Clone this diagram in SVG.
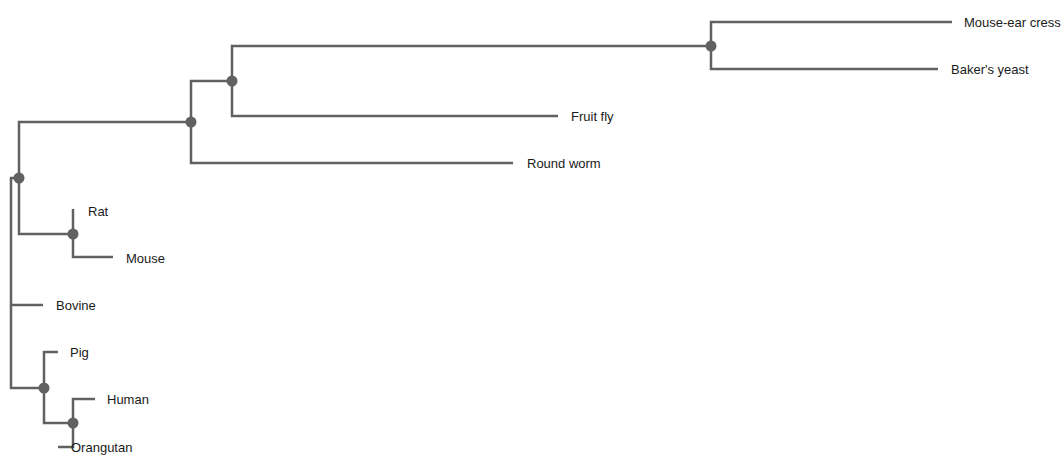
<svg xmlns="http://www.w3.org/2000/svg" width="1064" height="455" viewBox="0 0 1064 455">
<style>
.link{fill:none;stroke:#616161;stroke-width:2.5}
.node circle{fill:#616161}
.node text{font-family:"Liberation Sans",Arial,sans-serif;font-size:13px;fill:#1a1a1a}
</style>
<rect width="1064" height="455" fill="#fff"/>
<g id="links">
<path class="link" d="M19,178V122H191"/>
<path class="link" d="M19,178V234H73"/>
<path class="link" d="M19,178H11V388H44"/>
<path class="link" d="M11,305H43"/>
<path class="link" d="M191,122V81H232"/>
<path class="link" d="M191,122V163H513"/>
<path class="link" d="M232,81V46H711"/>
<path class="link" d="M232,81V116H558"/>
<path class="link" d="M711,46V22H952"/>
<path class="link" d="M711,46V69H938"/>
<path class="link" d="M73,234V209"/>
<path class="link" d="M73,234V257H113"/>
<path class="link" d="M44,388V352H58"/>
<path class="link" d="M44,388V423H73"/>
<path class="link" d="M73,423V399H95"/>
<path class="link" d="M73,423V447H58"/>
</g>
<g id="n-root" class="node"><circle cx="19" cy="178" r="5.5"/></g>
<g id="n-g1" class="node"><circle cx="191" cy="122" r="5.5"/></g>
<g id="n-g2" class="node"><circle cx="232" cy="81" r="5.5"/></g>
<g id="n-g3" class="node"><circle cx="711" cy="46" r="5.5"/></g>
<g id="n-g4" class="node"><circle cx="73" cy="234" r="5.5"/></g>
<g id="n-g5" class="node"><circle cx="44" cy="388" r="5.5"/></g>
<g id="n-g6" class="node"><circle cx="73" cy="423" r="5.5"/></g>
<g id="n-mouse-ear-cress" class="node"><text x="964" y="22" dy="0.35em">Mouse-ear cress</text></g>
<g id="n-bakers-yeast" class="node"><text x="951" y="69" dy="0.35em">Baker's yeast</text></g>
<g id="n-fruit-fly" class="node"><text x="571" y="116" dy="0.35em">Fruit fly</text></g>
<g id="n-round-worm" class="node"><text x="527" y="163" dy="0.35em">Round worm</text></g>
<g id="n-rat" class="node"><text x="88" y="211" dy="0.35em">Rat</text></g>
<g id="n-mouse" class="node"><text x="126" y="258" dy="0.35em">Mouse</text></g>
<g id="n-bovine" class="node"><text x="56" y="305" dy="0.35em">Bovine</text></g>
<g id="n-pig" class="node"><text x="70" y="352" dy="0.35em">Pig</text></g>
<g id="n-human" class="node"><text x="107" y="399" dy="0.35em">Human</text></g>
<g id="n-orangutan" class="node"><text x="71" y="447" dy="0.35em">Orangutan</text></g>
</svg>
